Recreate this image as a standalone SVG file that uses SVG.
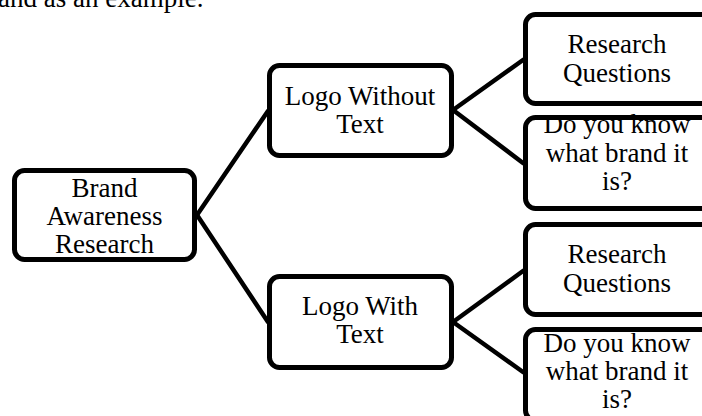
<svg xmlns="http://www.w3.org/2000/svg" width="702" height="416" viewBox="0 0 702 416">
<style>
.box{fill:#fff;stroke:#000;stroke-width:5}
text{font-family:"Liberation Serif","Times New Roman",Times,serif;font-size:27px;fill:#000}
.t{text-anchor:middle}
#connectors line{stroke:#000;stroke-width:4.5;stroke-linecap:round}
</style>
<rect width="702" height="416" fill="#fff"/>
<text x="-11" y="7">rand as an example.</text>
<g id="connectors">
<line x1="197" y1="215" x2="268" y2="111"/>
<line x1="197" y1="215" x2="268" y2="322"/>
<line x1="453" y1="110" x2="523" y2="60"/>
<line x1="453" y1="110" x2="523" y2="163"/>
<line x1="453" y1="322" x2="523" y2="271"/>
<line x1="453" y1="322" x2="523" y2="372"/>
</g>
<g id="n1">
<rect class="box" x="14.5" y="170.5" width="180" height="89" rx="10"/>
<text class="t"><tspan x="104.5" y="197">Brand</tspan><tspan x="104.5" y="225">Awareness</tspan><tspan x="104.5" y="253">Research</tspan></text>
</g>
<g id="n2">
<rect class="box" x="269.5" y="65.5" width="182" height="90" rx="10"/>
<text class="t"><tspan x="360" y="105">Logo Without</tspan><tspan x="360" y="133">Text</tspan></text>
</g>
<g id="n3">
<rect class="box" x="269.5" y="276.5" width="182" height="91" rx="10"/>
<text class="t"><tspan x="360" y="315">Logo With</tspan><tspan x="360" y="343">Text</tspan></text>
</g>
<g id="n4">
<rect class="box" x="525.5" y="14.5" width="186" height="89" rx="10"/>
<text class="t"><tspan x="617" y="53">Research</tspan><tspan x="617" y="82">Questions</tspan></text>
</g>
<g id="n5">
<rect class="box" x="525.5" y="117.5" width="186" height="91" rx="10"/>
<text class="t"><tspan x="617" y="133">Do you know</tspan><tspan x="617" y="162">what brand it</tspan><tspan x="617" y="190">is?</tspan></text>
</g>
<g id="n6">
<rect class="box" x="525.5" y="224.5" width="186" height="90" rx="10"/>
<text class="t"><tspan x="617" y="263">Research</tspan><tspan x="617" y="292">Questions</tspan></text>
</g>
<g id="n7">
<rect class="box" x="525.5" y="329.5" width="186" height="91" rx="10"/>
<text class="t"><tspan x="617" y="352">Do you know</tspan><tspan x="617" y="380">what brand it</tspan><tspan x="617" y="408">is?</tspan></text>
</g>
</svg>
